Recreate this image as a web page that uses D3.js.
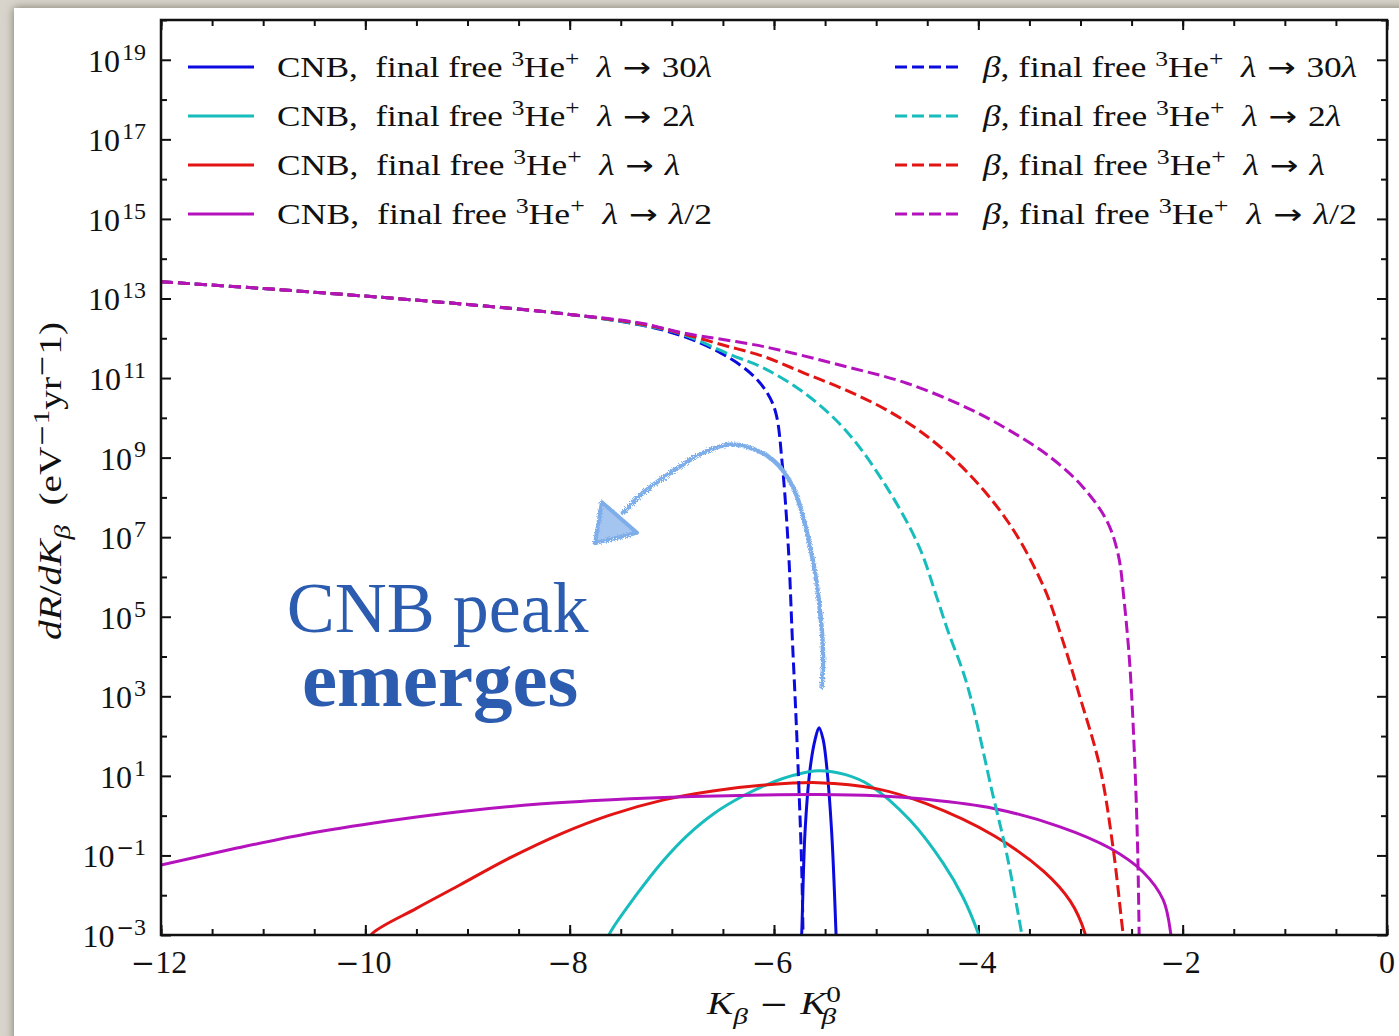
<!DOCTYPE html>
<html>
<head>
<meta charset="utf-8">
<script src="https://cdnjs.cloudflare.com/ajax/libs/d3/7.8.5/d3.min.js"></script>
<style>
  html, body { margin: 0; padding: 0; background: #d4d0c7; }
  svg { display: block; }
  text { font-family: "Liberation Serif", "DejaVu Serif", serif; fill: #111; white-space: pre; }
</style>
</head>
<body>
<svg id="chart" width="1399" height="1036"></svg>
<script>
// ---- data: x = K_beta - K_beta^0 (eV), values are log10(dR/dK) ----
var betaLam30 = [[-12,13.42],[-11,13.25],[-10,13.06],[-9,12.85],[-8,12.6],[-7.3,12.33],[-6.9,12.06],[-6.5,11.6],
  [-6.22,11.1],[-6.06,10.6],[-5.98,10.1],[-5.92,8.86],[-5.86,6.76],[-5.82,4.42],[-5.778,2.08],[-5.729,-1.29],[-5.715,-3.2]];
var betaLam2 = [[-12,13.42],[-11,13.25],[-10,13.06],[-9,12.85],[-8,12.6],[-7.3,12.34],[-6.9,12.1],[-6.42,11.58],
  [-6.1,11.25],[-5.7,10.62],[-5.3,9.69],[-4.9,8.27],[-4.58,6.76],[-4.408,5.5],[-4.3,4.66],[-4.114,3.33],[-3.854,0.48],
  [-3.723,-0.95],[-3.576,-2.96],[-3.56,-3.2]];
var betaLam1 = [[-12,13.42],[-11,13.25],[-10,13.06],[-9,12.85],[-8,12.6],[-7.3,12.36],[-6.9,12.12],[-6.5,11.83],
  [-6.1,11.54],[-5.7,11.12],[-5.3,10.7],[-4.9,10.2],[-4.5,9.53],[-4.1,8.61],[-3.7,7.35],[-3.36,5.75],[-3.18,4.45],
  [-3.005,2.98],[-2.81,1.22],[-2.682,-0.79],[-2.584,-2.95],[-2.57,-3.2]];
var betaLamHalf = [[-12,13.42],[-11,13.25],[-10,13.06],[-9,12.85],[-8,12.6],[-7.3,12.38],[-6.9,12.14],[-6.1,11.79],
  [-5.3,11.29],[-4.7,10.87],[-4.1,10.24],[-3.7,9.69],[-3.3,9.02],[-2.98,8.27],[-2.74,7.4],[-2.63,6.55],[-2.575,5.45],
  [-2.516,3.74],[-2.467,1.22],[-2.44,-0.9],[-2.425,-3.2]];

var cnbLam30 = [[-5.735,-3.2],[-5.729,-2.96],[-5.697,-0.44],[-5.648,1.15],[-5.599,1.9],[-5.559,2.21],[-5.518,1.9],
  [-5.484,1.23],[-5.435,-0.44],[-5.393,-2.96],[-5.39,-3.2]];
var cnbLam2 = [[-7.64,-3.2],[-7.608,-2.96],[-7.35,-2.0],[-7.09,-1.15],[-6.85,-0.5],[-6.59,0.05],[-6.3,0.5],
  [-6.05,0.8],[-5.8,1.02],[-5.567,1.13],[-5.3,1.03],[-5.06,0.76],[-4.67,-0.11],[-4.343,-1.2],[-4.15,-2.05],
  [-4.0,-2.96],[-3.97,-3.2]];
var cnbLam1 = [[-9.98,-3.2],[-9.93,-2.96],[-9.5,-2.33],[-9.08,-1.75],[-8.6,-1.08],[-8.08,-0.45],[-7.6,0.02],
  [-7.09,0.39],[-6.6,0.62],[-6.09,0.77],[-5.57,0.83],[-5.0,0.68],[-4.51,0.3],[-3.85,-0.5],[-3.36,-1.4],
  [-3.1,-2.15],[-2.956,-2.96],[-2.94,-3.2]];
var cnbLamHalf = [[-12,-1.24],[-11.3,-0.84],[-10.58,-0.46],[-9.8,-0.14],[-9.08,0.1],[-8.3,0.29],[-7.59,0.4],
  [-6.8,0.48],[-6.09,0.52],[-5.57,0.53],[-5.0,0.5],[-4.51,0.41],[-3.85,0.18],[-3.2,-0.28],[-2.71,-0.82],
  [-2.39,-1.41],[-2.19,-2.12],[-2.117,-2.96],[-2.11,-3.2]];

var seriesColors = ["#0b0be0", "#17bcbc", "#e31414", "#b412bd"];
var legendTargets = ["30λ", "2λ", "λ", "λ/2"];

var xMajorTicks = [-12, -10, -8, -6, -4, -2, 0];
var xMinorTicks = d3.range(-12, 0.01, 0.5);
var yMajorExps = [-3, -1, 1, 3, 5, 7, 9, 11, 13, 15, 17, 19];
var yMinorExps = [-2, 0, 2, 4, 6, 8, 10, 12, 14, 16, 18, 20];

// hand-drawn annotation arrow (data coords)
var arrowPath = [[-5.533,3.24],[-5.52,4.09],[-5.578,5.75],[-5.677,7.11],[-5.814,8.26],[-6.01,8.94],[-6.264,9.27],
  [-6.46,9.32],[-6.695,9.12],[-7.018,8.61],[-7.282,8.11],[-7.478,7.61]];
var arrowHead = [[-7.752,6.85],[-7.684,7.88],[-7.341,7.11]];

// ---- layout ----
var svg = d3.select("#chart");
var W = 1399, H = 1036;
var m = {left: 161, right: 1387, top: 20, bottom: 935};
var SANS = "DejaVu Sans";

var defs = svg.append("defs");
defs.append("filter").attr("id", "shadow").attr("x", -0.1).attr("y", -0.1).attr("width", 1.2).attr("height", 1.2)
  .append("feGaussianBlur").attr("stdDeviation", 5);
var rough = defs.append("filter").attr("id", "rough").attr("x", -0.2).attr("y", -0.2).attr("width", 1.4).attr("height", 1.4);
rough.append("feTurbulence").attr("type", "fractalNoise").attr("baseFrequency", 1.2).attr("numOctaves", 2).attr("result", "n");
rough.append("feDisplacementMap").attr("in", "SourceGraphic").attr("in2", "n").attr("scale", 5);
defs.append("clipPath").attr("id", "plotclip").append("rect")
  .attr("x", m.left).attr("y", m.top).attr("width", m.right - m.left).attr("height", m.bottom - m.top);

// page background with panel shadow
svg.append("rect").attr("width", W).attr("height", H).attr("fill", "#d8d4cb");
svg.append("rect").attr("x", 14).attr("y", 8).attr("width", W).attr("height", H)
  .attr("fill", "#7d776b").attr("filter", "url(#shadow)");
svg.append("rect").attr("x", 14).attr("y", 8).attr("width", W).attr("height", H).attr("fill", "#ffffff");

var x = d3.scaleLinear().domain([-12, 0]).range([m.left, m.right]);
var y = d3.scaleLog().domain([1e-3, 1e20]).range([m.bottom, m.top]);
var pw = function(e) { return Math.pow(10, e); };

// ---- axes: inward ticks on all four sides ----
function tickAxis(axis, g, len) {
  g.call(axis.tickSizeInner(len).tickSizeOuter(0).tickFormat(""));
  g.select(".domain").remove();
  g.selectAll("line").attr("stroke", "#111").attr("stroke-width", 2);
}
var axes = svg.append("g");
tickAxis(d3.axisBottom(x).tickValues(xMajorTicks), axes.append("g").attr("transform", "translate(0," + m.bottom + ")"), -10);
tickAxis(d3.axisBottom(x).tickValues(xMinorTicks), axes.append("g").attr("transform", "translate(0," + m.bottom + ")"), -6);
tickAxis(d3.axisTop(x).tickValues(xMajorTicks), axes.append("g").attr("transform", "translate(0," + m.top + ")"), -10);
tickAxis(d3.axisTop(x).tickValues(xMinorTicks), axes.append("g").attr("transform", "translate(0," + m.top + ")"), -6);
tickAxis(d3.axisLeft(y).tickValues(yMajorExps.map(pw)), axes.append("g").attr("transform", "translate(" + m.left + ",0)"), -10);
tickAxis(d3.axisLeft(y).tickValues(yMinorExps.map(pw)), axes.append("g").attr("transform", "translate(" + m.left + ",0)"), -6);
tickAxis(d3.axisRight(y).tickValues(yMajorExps.map(pw)), axes.append("g").attr("transform", "translate(" + m.right + ",0)"), -10);
tickAxis(d3.axisRight(y).tickValues(yMinorExps.map(pw)), axes.append("g").attr("transform", "translate(" + m.right + ",0)"), -6);

// text with super/subscripts built from tspans
function addParts(t, parts, size) {
  var shift = 0;
  parts.forEach(function(p) {
    var target = p.s === "sup" ? -0.38 * size : (p.s === "sub" ? 0.3 * size : 0);
    var ts = t.append("tspan").text(p.t).attr("dy", target - shift);
    shift = target;
    var fs = p.s ? size * 0.74 : size;
    if (p.k) fs *= p.k;
    ts.attr("font-size", Math.round(fs));
    if (p.i) ts.attr("font-style", "italic");
    if (p.f) ts.attr("font-family", p.f);
    if (p.dx) ts.attr("dx", p.dx);
  });
}
function numParts(v, s) {
  var str = String(v);
  if (str.charAt(0) === "-") return [{t: "\u2212", s: s, f: SANS, k: 0.9}, {t: str.slice(1), s: s}];
  return [{t: str, s: s}];
}

svg.append("g").selectAll("text").data(xMajorTicks).join("text")
  .attr("x", function(d) { return x(d) - (d < 0 ? 2 : 0); }).attr("y", 973)
  .attr("text-anchor", "middle")
  .each(function(d) { addParts(d3.select(this), numParts(d), 32); });

svg.append("g").selectAll("text").data(yMajorExps).join("text")
  .attr("x", 146).attr("y", function(d) { return y(pw(d)) + 12; })
  .attr("text-anchor", "end")
  .each(function(d) {
    var ex = numParts(d, "sup");
    ex[0].dx = 2;
    addParts(d3.select(this), [{t: "10"}].concat(ex), 32);
  });

// axis titles
var xt = svg.append("text").attr("x", x(-6)).attr("y", 1014).attr("text-anchor", "middle")
  .attr("textLength", 134).attr("lengthAdjust", "spacingAndGlyphs");
addParts(xt, [{t: "K", i: true}, {t: "β", s: "sub", i: true}, {t: " \u2212 ", f: SANS, k: 0.9}, {t: "K", i: true},
  {t: "0", s: "sup"}, {t: "β", s: "sub", i: true, dx: -16}], 32);

var yt = svg.append("text").attr("transform", "translate(61,481) rotate(-90)")
  .attr("text-anchor", "middle").attr("textLength", 318).attr("lengthAdjust", "spacingAndGlyphs");
addParts(yt, [{t: "dR", i: true}, {t: "/"}, {t: "dK", i: true}, {t: "β", s: "sub", i: true}, {t: "  (eV"},
  {t: "\u2212", s: "sup", f: SANS, k: 0.9}, {t: "1", s: "sup"}, {t: "yr"}, {t: "\u2212", s: "sup", f: SANS, k: 0.9},
  {t: "1)"}], 31);

// ---- curves ----
var line = d3.line()
  .x(function(d) { return x(d[0]); })
  .y(function(d) { return y(pw(d[1])); })
  .curve(d3.curveCatmullRom.alpha(0.5));

var plot = svg.append("g").attr("clip-path", "url(#plotclip)");
var cnbSeries = [cnbLam30, cnbLam2, cnbLam1, cnbLamHalf];
var betaSeries = [betaLam30, betaLam2, betaLam1, betaLamHalf];

cnbSeries.forEach(function(s, i) {
  plot.append("path").datum(s).attr("d", line).attr("fill", "none")
    .attr("stroke", seriesColors[i]).attr("stroke-width", 3);
});
betaSeries.forEach(function(s, i) {
  plot.append("path").datum(s).attr("d", line).attr("fill", "none")
    .attr("stroke", seriesColors[i]).attr("stroke-width", 3).attr("stroke-dasharray", "12,5");
});

// frame
svg.append("rect").attr("x", m.left).attr("y", m.top).attr("width", m.right - m.left).attr("height", m.bottom - m.top)
  .attr("fill", "none").attr("stroke", "#111").attr("stroke-width", 2.5);

// ---- legend ----
var legWidthCNB = [435, 418, 403, 435];
var legWidthBeta = [374, 358, 342, 374];
var leg = svg.append("g");
legendTargets.forEach(function(tg, i) {
  var ly = 67 + i * 49;
  var tail = [];
  tg.split(/(λ)/).forEach(function(s) { if (s) tail.push(s === "λ" ? {t: s, i: true} : {t: s}); });
  var head = [{t: "3", s: "sup"}, {t: "He"}, {t: "+", s: "sup"}, {t: "  "},
    {t: "λ", i: true}, {t: " \u2192 ", f: SANS, k: 0.95}];
  // CNB (solid)
  leg.append("line").attr("x1", 188).attr("x2", 254).attr("y1", ly).attr("y2", ly)
    .attr("stroke", seriesColors[i]).attr("stroke-width", 3);
  var t1 = leg.append("text").attr("x", 277).attr("y", ly + 10)
    .attr("textLength", legWidthCNB[i]).attr("lengthAdjust", "spacingAndGlyphs");
  addParts(t1, [{t: "CNB,  final free "}].concat(head, tail), 29);
  // beta (dashed)
  leg.append("line").attr("x1", 895).attr("x2", 960).attr("y1", ly).attr("y2", ly)
    .attr("stroke", seriesColors[i]).attr("stroke-width", 3).attr("stroke-dasharray", "12,5");
  var t2 = leg.append("text").attr("x", 983).attr("y", ly + 10)
    .attr("textLength", legWidthBeta[i]).attr("lengthAdjust", "spacingAndGlyphs");
  addParts(t2, [{t: "β", i: true}, {t: ", final free "}].concat(head, tail), 29);
});

// ---- annotation ----
var arrowLine = d3.line()
  .x(function(d) { return x(d[0]); })
  .y(function(d) { return y(pw(d[1])); })
  .curve(d3.curveCatmullRom);
var ann = svg.append("g").attr("filter", "url(#rough)");
ann.append("path").datum(arrowPath).attr("d", arrowLine).attr("fill", "none")
  .attr("stroke", "#7eaeea").attr("stroke-width", 4.5).attr("stroke-linecap", "round");
ann.append("path").datum(arrowHead).attr("d", d3.line().x(function(d) { return x(d[0]); })
  .y(function(d) { return y(pw(d[1])); }).curve(d3.curveLinearClosed))
  .attr("fill", "#a3c5f0").attr("stroke", "#7eaeea").attr("stroke-width", 4)
  .attr("stroke-linejoin", "round");

// two-line note kept in one text element
var note = svg.append("text").style("fill", "#2b5cb0");
note.append("tspan").attr("x", x(-10.77)).attr("y", y(pw(4.62))).attr("font-size", 72).text("CNB peak");
note.append("tspan").attr("x", x(-10.62)).attr("y", y(pw(2.76))).attr("font-size", 79)
  .attr("font-weight", "bold").text("emerges");
</script>
</body>
</html>
